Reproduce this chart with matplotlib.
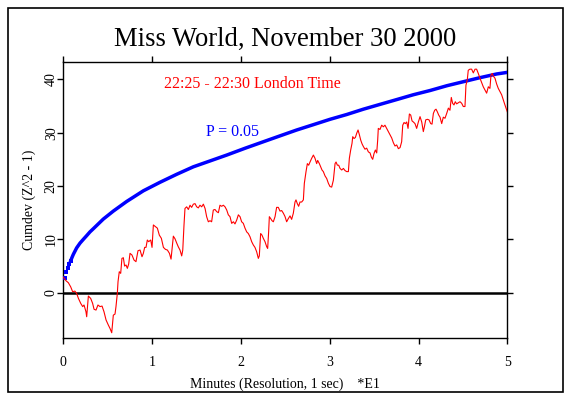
import matplotlib
matplotlib.use('Agg')
import matplotlib.pyplot as plt
from matplotlib.patches import Rectangle

plt.rcParams["font.family"] = "Liberation Serif"

# cumulative deviation (minutes, Cumdev)
cumdev_x = [0.0, 0.03, 0.057, 0.083, 0.105, 0.13, 0.15, 0.17, 0.196, 0.218, 0.233, 0.255,
            0.263, 0.282, 0.308, 0.33, 0.346, 0.368, 0.39, 0.413, 0.436, 0.458, 0.481, 0.507,
            0.526, 0.545, 0.563, 0.582, 0.593, 0.608, 0.616, 0.63, 0.646, 0.66, 0.676, 0.69,
            0.706, 0.721, 0.736, 0.751, 0.773, 0.796, 0.818, 0.841, 0.864, 0.886, 0.901, 0.916,
            0.931, 0.946, 0.961, 0.984, 0.999, 1.014, 1.036, 1.059, 1.081, 1.104, 1.127, 1.15,
            1.172, 1.195, 1.213, 1.239, 1.258, 1.277, 1.295, 1.314, 1.333, 1.345, 1.359, 1.37,
            1.389, 1.408, 1.427, 1.445, 1.464, 1.483, 1.502, 1.52, 1.539, 1.558, 1.577, 1.596,
            1.614, 1.633, 1.652, 1.67, 1.689, 1.708, 1.727, 1.746, 1.764, 1.783, 1.802, 1.821,
            1.84, 1.858, 1.877, 1.896, 1.915, 1.933, 1.952, 1.971, 1.99, 2.008, 2.027, 2.046,
            2.065, 2.083, 2.102, 2.121, 2.14, 2.158, 2.177, 2.196, 2.207, 2.222, 2.237, 2.252,
            2.271, 2.29, 2.301, 2.312, 2.32, 2.335, 2.35, 2.365, 2.384, 2.402, 2.421, 2.44,
            2.459, 2.478, 2.496, 2.515, 2.534, 2.553, 2.571, 2.59, 2.609, 2.62, 2.635, 2.65,
            2.665, 2.684, 2.703, 2.714, 2.733, 2.748, 2.763, 2.778, 2.797, 2.816, 2.834, 2.853,
            2.864, 2.883, 2.898, 2.913, 2.928, 2.947, 2.966, 2.985, 3.003, 3.022, 3.041, 3.06,
            3.071, 3.086, 3.101, 3.116, 3.135, 3.154, 3.172, 3.191, 3.21, 3.221, 3.236, 3.251,
            3.259, 3.274, 3.289, 3.304, 3.319, 3.334, 3.349, 3.364, 3.379, 3.397, 3.416, 3.435,
            3.454, 3.469, 3.484, 3.499, 3.514, 3.529, 3.54, 3.547, 3.566, 3.585, 3.604, 3.622,
            3.641, 3.66, 3.698, 3.717, 3.735, 3.754, 3.773, 3.792, 3.81, 3.822, 3.837, 3.852,
            3.867, 3.882, 3.897, 3.912, 3.927, 3.942, 3.96, 3.979, 3.998, 4.017, 4.036, 4.054,
            4.066, 4.081, 4.1, 4.118, 4.137, 4.152, 4.167, 4.182, 4.197, 4.212, 4.227, 4.242,
            4.261, 4.279, 4.298, 4.317, 4.336, 4.354, 4.369, 4.384, 4.399, 4.414, 4.429, 4.448,
            4.467, 4.486, 4.504, 4.523, 4.534, 4.549, 4.56, 4.579, 4.598, 4.617, 4.636, 4.654,
            4.673, 4.692, 4.711, 4.729, 4.748, 4.767, 4.786, 4.804, 4.816, 4.831, 4.842, 4.861,
            4.88, 4.898, 4.917, 4.936, 4.955, 4.973, 5.0]
cumdev_y = [2.9, 2.25, 1.87, 1.1, 0.19, 0.31, -0.13, -1.06, -2.0, -2.6, -2.3, -3.56,
            -4.5, -0.62, -1.06, -2.0, -3.1, -3.25, -2.3, -2.6, -2.5, -3.56, -5.1, -6.06,
            -6.7, -7.5, -4.2, -4.0, -2.6, -0.13, 2.07, 3.94, 3.63, 6.44, 6.56, 5.0,
            5.2, 4.57, 5.38, 7.38, 7.07, 6.13, 5.82, 7.88, 8.0, 6.75, 7.38, 8.5,
            8.5, 9.88, 9.57, 9.88, 8.5, 12.7, 12.4, 12.1, 10.8, 10.2, 8.5, 8.13,
            8.0, 7.38, 6.3, 10.6, 10.1, 9.3, 8.6, 8.0, 6.9, 8.0, 12.7, 15.8,
            16.1, 15.6, 16.4, 16.0, 16.6, 16.7, 16.1, 15.9, 16.4, 16.1, 16.6, 15.8,
            14.25, 13.3, 13.5, 13.3, 15.5, 15.6, 15.2, 15.0, 16.4, 16.2, 16.4, 16.1,
            15.5, 14.6, 14.25, 13.0, 13.3, 12.9, 13.6, 14.6, 14.25, 13.3, 13.0, 12.1,
            11.4, 11.1, 10.5, 9.57, 8.94, 8.5, 7.69, 6.44, 6.9, 11.1, 10.8, 10.2,
            9.57, 8.63, 8.3, 11.4, 14.25, 13.9, 13.5, 13.3, 14.25, 16.0, 16.0, 15.3,
            15.4, 14.9, 14.3, 13.3, 13.9, 14.4, 13.75, 14.9, 17.0, 17.4, 16.7, 16.2,
            17.0, 17.0, 17.4, 20.5, 22.7, 24.2, 23.9, 24.5, 25.2, 25.8, 25.2, 24.2,
            24.8, 24.2, 23.6, 23.0, 22.7, 21.9, 21.4, 20.5, 19.9, 19.8, 21.1, 24.2,
            24.5, 23.9, 23.9, 23.3, 23.0, 23.3, 22.9, 22.7, 22.7, 25.2, 26.75, 28.0,
            29.25, 28.9, 29.1, 29.9, 30.5, 29.6, 28.6, 27.9, 27.4, 26.9, 27.1, 26.4,
            26.2, 25.4, 25.0, 26.1, 26.75, 26.2, 28.6, 30.8, 30.6, 31.4, 31.1, 31.4,
            30.8, 30.2, 29.0, 28.1, 27.5, 27.7, 27.0, 27.2, 28.3, 31.4, 31.9, 31.7,
            32.0, 30.8, 33.5, 33.3, 32.2, 32.0, 31.7, 30.8, 32.0, 33.0, 32.0, 30.2,
            31.1, 32.4, 32.5, 32.4, 31.7, 31.6, 33.6, 34.2, 34.4, 33.9, 33.3, 32.9,
            31.7, 32.9, 32.7, 33.6, 34.6, 34.2, 36.6, 35.5, 35.2, 35.8, 35.4, 35.6,
            35.8, 35.5, 34.9, 34.9, 38.9, 39.9, 41.7, 41.9, 41.9, 41.2, 41.9, 41.9,
            41.1, 40.2, 39.4, 38.6, 38.0, 37.4, 38.6, 38.3, 40.8, 41.1, 40.6, 40.2,
            39.1, 38.3, 37.7, 37.1, 36.1, 35.2, 33.9]

# P = 0.05 envelope
p05_x = [0.0167, 0.033, 0.05, 0.067, 0.083, 0.1, 0.113, 0.15, 0.188, 0.225, 0.263, 0.3,
         0.338, 0.45, 0.563, 0.713, 0.901, 1.089, 1.277, 1.464, 1.652, 1.84, 2.05, 2.253,
         2.44, 2.628, 2.816, 3.003, 3.191, 3.379, 3.566, 3.754, 3.94, 4.13, 4.32, 4.505,
         4.69, 4.88, 5.0]
p05_y = [2.8, 3.9, 4.7, 5.4, 6.0, 6.7, 7.2, 8.4, 9.3, 10.0, 10.7, 11.4,
         12.0, 13.8, 15.3, 17.1, 19.1, 20.7, 22.2, 23.6, 24.7, 25.8, 27.1, 28.3,
         29.4, 30.5, 31.5, 32.5, 33.4, 34.4, 35.3, 36.2, 37.1, 37.9, 38.8, 39.55,
         40.3, 41.0, 41.3]

x_ticks = [0, 1, 2, 3, 4, 5]
y_ticks = [0, 10, 20, 30, 40]

f = plt.figure(figsize=(5.71, 3.99), dpi=100)
ax = f.add_axes([0.1109, 0.1536, 0.7776, 0.6903])

ax.axhline(0, color='black', lw=1.8, zorder=2)
ax.plot(p05_x[4:], p05_y[4:], color='#0000ff', lw=2.5, zorder=3)
ax.plot(p05_x[:5], p05_y[:5], 's', color='#0000ff', ms=2.4, mew=0, zorder=3)
ax.plot(cumdev_x, cumdev_y, color='#ff0000', lw=0.8, zorder=4)

ax.set_xlim(0, 5)
ax.set_ylim(-8.43, 43.19)
ax.set_xticks(x_ticks)
ax.set_yticks(y_ticks)
ax.tick_params(direction='out', length=4, width=1, top=True, right=True,
               labelsize=10, colors='black')
ax.tick_params(axis='x', pad=9)
ax.tick_params(axis='y', pad=0)
for lab in ax.get_yticklabels():
    lab.set_rotation(90)
    lab.set_va('center')
for s in ax.spines.values():
    s.set_linewidth(1)

ax.text(2.125, 39.1, '22:25 - 22:30 London Time', color='#ff0000', fontsize=11.5,
        ha='center', va='center')
ax.text(1.91, 30.06, 'P = 0.05', color='#0000ff', fontsize=11.5,
        ha='center', va='center')

ax.set_xlabel('Minutes (Resolution, 1 sec)    *E1', fontsize=10, labelpad=6)
ax.set_ylabel('Cumdev (Z^2 - 1)', fontsize=10, labelpad=6)
f.text(0.5, 0.902, 'Miss World, November 30 2000', fontsize=19.2, ha='center', va='center')

f.patches.append(Rectangle((0.014, 0.0175), 0.972, 0.9625, transform=f.transFigure,
                           fill=False, edgecolor='black', lw=1.2))

f.savefig('out.png', dpi=100)
